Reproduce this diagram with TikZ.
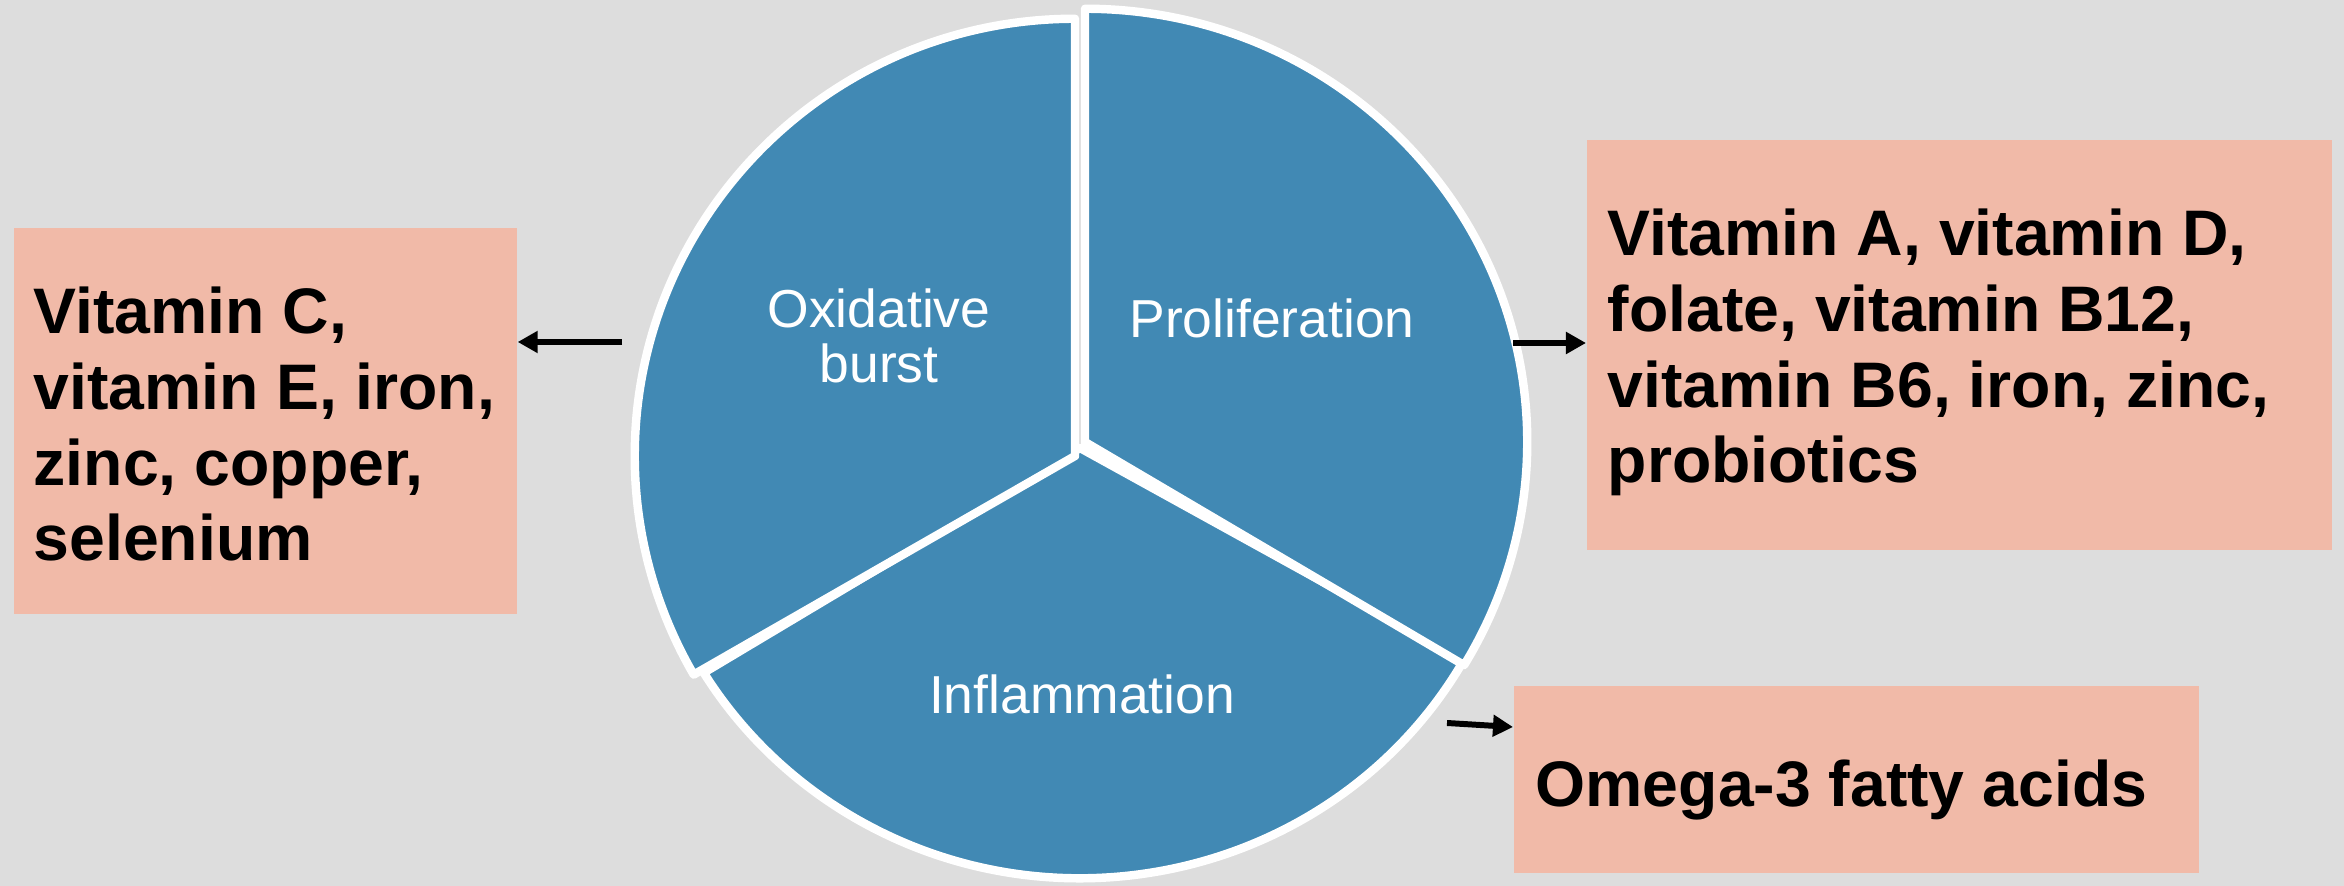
\documentclass[tikz,border=0pt]{standalone}
\usepackage{fontspec}
\setmainfont{Liberation Sans}
\usetikzlibrary{arrows.meta}
\definecolor{bg}{RGB}{221,221,221}
\definecolor{pieblue}{RGB}{65,137,180}
\definecolor{boxpink}{RGB}{241,186,168}
\tikzset{
  slice/.style={fill=pieblue, draw=white, line width=2.4pt, line join=round},
  slicelabel/.style={text=white, align=center, inner sep=0pt, font=\fontsize{15.2pt}{15.5pt}\selectfont},
  pinkbox/.style={fill=boxpink, draw=none},
  boxtext/.style={anchor=base west, inner sep=0pt, align=left, font=\fontsize{18.3pt}{21.6pt}\selectfont\bfseries},
  link/.style={line width=1.7pt, -{Triangle[length=0.2cm,width=0.21cm]}}
}
\begin{document}
\begin{tikzpicture}[x=0.01cm,y=-0.01cm]
\useasboundingbox (0,0) rectangle (2344,886);
\fill[bg] (0,0) rectangle (2344,886);
% pie slices
\filldraw[slice] (1080,448) -- +(-29.5:4.41cm and 4.30cm) arc[start angle=-29.5, end angle=-148.5, x radius=4.41cm, y radius=4.30cm] -- cycle;
\filldraw[slice] (1075,456) -- +(90:4.40cm and 4.37cm) arc[start angle=90, end angle=210, x radius=4.40cm, y radius=4.37cm] -- cycle;
\filldraw[slice] (1085,442) -- +(90:4.42cm and 4.33cm) arc[start angle=90, end angle=-31, x radius=4.42cm, y radius=4.33cm] -- cycle;
\node[slicelabel] (ox) at (879,336) {Oxidative\\burst};
\node[slicelabel] (pro) at (1272,318) {Proliferation};
\node[slicelabel] (inf) at (1082,694) {Inflammation};
% boxes
\node[pinkbox, minimum width=5.03cm, minimum height=3.86cm, anchor=north west] (lbox) at (13,227) {};
\node[pinkbox, minimum width=7.45cm, minimum height=4.10cm, anchor=north west] (rbox) at (1586,139) {};
\node[pinkbox, minimum width=6.85cm, minimum height=1.87cm, anchor=north west] (obox) at (1513,685) {};
\node[boxtext] (ltext) at (33,561) {Vitamin C,\\vitamin E, iron,\\zinc, copper,\\selenium};
\node[boxtext] (rtext) at (1607,483) {Vitamin A, vitamin D,\\folate, vitamin B12,\\vitamin B6, iron, zinc,\\probiotics};
\node[boxtext] (otext) at (1535,807) {Omega-3 fatty acids};
% arrows
\coordinate (la) at (622,342);
\coordinate (ra) at (1513,343);
\coordinate (ba) at (1447,723);
\draw[link] (la) -- (lbox.east |- la);
\draw[link] (ra) -- (rbox.west |- ra);
\draw[link] (ba) -- ([yshift=-0.04cm]obox.west |- ba);
\end{tikzpicture}
\end{document}
